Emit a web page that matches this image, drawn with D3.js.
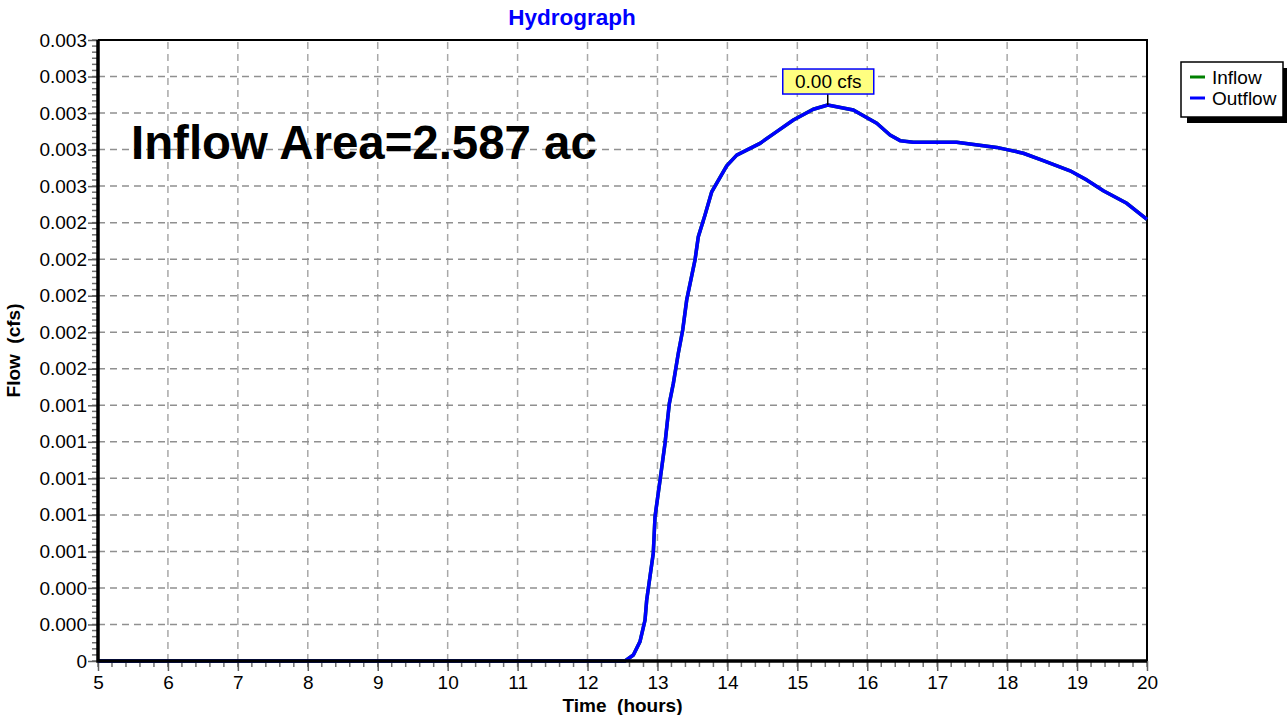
<!DOCTYPE html>
<html>
<head>
<meta charset="utf-8">
<script src="https://cdn.jsdelivr.net/npm/d3@7"></script>
<style>
    body { margin: 0; background: #ffffff; }
    text { font-family: Arial, "Liberation Sans", sans-serif; }
</style>
</head>
<body>
<div id="chart-container"></div>
<script>
// Time in hours
const times = [5, 12.536, 12.655, 12.75, 12.822, 12.846, 12.94, 12.965, 13.037, 13.108, 13.17,
    13.227, 13.298, 13.361, 13.418, 13.537, 13.584, 13.68, 13.776, 13.99, 14.133, 14.466,
    14.705, 14.943, 15.229, 15.435, 15.8, 16.135, 16.326, 16.469, 16.659, 17.278, 17.851,
    18.232, 18.517, 18.9, 19.138, 19.376, 19.71, 20];

// Outflow in cfs
const outflow = [0, 0, 0.000033, 0.000106, 0.000224, 0.000334, 0.00059, 0.00079, 0.000991, 0.001192, 0.001411,
    0.00152, 0.001685, 0.001812, 0.001977, 0.002196, 0.002323, 0.002442, 0.002569, 0.002711, 0.00277, 0.002834,
    0.002898, 0.002962, 0.003021, 0.003044, 0.003017, 0.002944, 0.00288, 0.002849, 0.00284, 0.00284, 0.002812,
    0.00278, 0.002739, 0.002684, 0.002634, 0.002575, 0.002506, 0.002418];

// Inflow equals outflow here (drawn underneath)
const inflow = outflow.slice();

const xTicks = d3.range(5, 21, 1);
const yTicks = d3.range(0, 0.00341, 0.0002);

const peakTime = 15.435;
const peakFlow = 0.003044;
const peakLabel = "0.00 cfs";
const areaLabel = "Inflow Area=2.587 ac";

const legendItems = [
    { name: "Inflow", color: "#008000" },
    { name: "Outflow", color: "#0000ff" }
];

const width = 1287, height = 715;
const margin = { left: 98, right: 140, top: 40, bottom: 54 };
const labelSize = "19px";

const svg = d3.select("#chart-container")
    .append("svg")
    .attr("width", width)
    .attr("height", height);

const xScale = d3.scaleLinear()
    .domain([5, 20])
    .range([margin.left, width - margin.right]);

const yScale = d3.scaleLinear()
    .domain([0, 0.0034])
    .range([height - margin.bottom, margin.top]);

// Grid lines
svg.append("g")
    .selectAll("line")
    .data(xTicks.slice(1, -1))
    .enter()
    .append("line")
    .attr("x1", d => xScale(d))
    .attr("x2", d => xScale(d))
    .attr("y1", yScale.range()[0])
    .attr("y2", yScale.range()[1])
    .attr("stroke", "#a8a8a8")
    .attr("stroke-width", 1.5)
    .attr("stroke-dasharray", "7,5");

svg.append("g")
    .selectAll("line")
    .data(yTicks.slice(1))
    .enter()
    .append("line")
    .attr("x1", xScale.range()[0])
    .attr("x2", xScale.range()[1])
    .attr("y1", d => yScale(d))
    .attr("y2", d => yScale(d))
    .attr("stroke", "#909090")
    .attr("stroke-width", 1.5)
    .attr("stroke-dasharray", "7,5");

// Frame (top, right thin)
svg.append("path")
    .attr("d", `M${xScale(5)},${yScale(0.0034)}H${xScale(20)}V${yScale(0)}`)
    .attr("fill", "none")
    .attr("stroke", "#000")
    .attr("stroke-width", 2);

// Axes
const fmtY = d => d === 0 ? "0" : d3.format(".3f")(d);

const yAxis = d3.axisLeft(yScale)
    .tickValues(yTicks)
    .tickFormat(fmtY)
    .tickSize(10)
    .tickPadding(1);

const xAxis = d3.axisBottom(xScale)
    .tickValues(xTicks)
    .tickFormat(d3.format("d"))
    .tickSize(10)
    .tickPadding(5);

// Minor ticks
const xMinor = d3.range(5, 20.001, 0.2);
const yMinor = d3.range(0, 0.00341, 0.0002 / 6);

svg.append("g")
    .selectAll("line")
    .data(yMinor)
    .enter()
    .append("line")
    .attr("x1", xScale(5) - 6)
    .attr("x2", xScale(5))
    .attr("y1", d => yScale(d))
    .attr("y2", d => yScale(d))
    .attr("stroke", "#707070")
    .attr("stroke-width", 1.5);

svg.append("g")
    .selectAll("line")
    .data(xMinor)
    .enter()
    .append("line")
    .attr("x1", d => xScale(d))
    .attr("x2", d => xScale(d))
    .attr("y1", yScale(0))
    .attr("y2", yScale(0) + 6)
    .attr("stroke", "#707070")
    .attr("stroke-width", 1.5);

const gy = svg.append("g")
    .attr("transform", `translate(${xScale(5)}, 0)`)
    .call(yAxis);

const gx = svg.append("g")
    .attr("transform", `translate(0, ${yScale(0)})`)
    .call(xAxis);

[gx, gy].forEach(g => {
    g.select(".domain").remove();
    g.selectAll(".tick line").attr("stroke", "#606060").attr("stroke-width", 1.5);
    g.selectAll(".tick text")
        .attr("fill", "#000")
        .style("font-size", labelSize)
        .style("font-family", "Arial, 'Liberation Sans', sans-serif");
});

// Series lines
const line = d3.line()
    .x((d, i) => xScale(times[i]))
    .y(d => yScale(d));

svg.append("path")
    .datum(inflow)
    .attr("fill", "none")
    .attr("stroke", "#008000")
    .attr("stroke-width", 3.5)
    .attr("d", line);

svg.append("path")
    .datum(outflow)
    .attr("fill", "none")
    .attr("stroke", "#0000ff")
    .attr("stroke-width", 3.5)
    .attr("stroke-linejoin", "round")
    .attr("d", line);

// Thick left and bottom axis lines
svg.append("path")
    .attr("d", `M${xScale(5)},${yScale(0.0034)}V${yScale(0)}H${xScale(20)}`)
    .attr("fill", "none")
    .attr("stroke", "#000")
    .attr("stroke-width", 3.5);

// Title and axis labels
svg.append("text")
    .attr("x", 572)
    .attr("y", 25)
    .attr("text-anchor", "middle")
    .attr("fill", "#0000ff")
    .style("font-size", "22.5px")
    .style("font-weight", "bold")
    .text("Hydrograph");

svg.append("text")
    .attr("x", (xScale(5) + xScale(20)) / 2)
    .attr("y", 712)
    .attr("text-anchor", "middle")
    .style("font-size", labelSize)
    .style("font-weight", "bold")
    .style("white-space", "pre")
    .text("Time  (hours)");

svg.append("text")
    .attr("transform", `translate(20, ${(yScale(0) + yScale(0.0034)) / 2}) rotate(-90)`)
    .attr("text-anchor", "middle")
    .style("font-size", labelSize)
    .style("font-weight", "bold")
    .style("white-space", "pre")
    .text("Flow  (cfs)");

// Area annotation
svg.append("text")
    .attr("x", 131)
    .attr("y", 159)
    .style("font-size", "47.4px")
    .style("font-weight", "bold")
    .text(areaLabel);

// Peak label with leader line
const px = xScale(peakTime), py = yScale(peakFlow);
svg.append("line")
    .attr("x1", px).attr("x2", px)
    .attr("y1", py).attr("y2", py - 11)
    .attr("stroke", "#000")
    .attr("stroke-width", 1.5);

svg.append("rect")
    .attr("x", px - 45)
    .attr("y", py - 36)
    .attr("width", 91)
    .attr("height", 25)
    .attr("fill", "#ffff80")
    .attr("stroke", "#0000ff")
    .attr("stroke-width", 1.5);

svg.append("text")
    .attr("x", px + 0.5)
    .attr("y", py - 17)
    .attr("text-anchor", "middle")
    .style("font-size", labelSize)
    .text(peakLabel);

// Legend with drop shadow
const legend = svg.append("g").attr("transform", "translate(1181, 62)");

legend.append("rect")
    .attr("x", 6).attr("y", 6)
    .attr("width", 102).attr("height", 55)
    .attr("fill", "#000");

legend.append("rect")
    .attr("width", 102).attr("height", 55)
    .attr("fill", "#fff")
    .attr("stroke", "#000")
    .attr("stroke-width", 1.5);

const rows = legend.selectAll(".row")
    .data(legendItems)
    .enter()
    .append("g")
    .attr("transform", (d, i) => `translate(0, ${15 + i * 21})`);

rows.append("line")
    .attr("x1", 9).attr("x2", 24)
    .attr("stroke", d => d.color)
    .attr("stroke-width", 3);

rows.append("text")
    .attr("x", 31)
    .attr("dy", "0.35em")
    .style("font-size", labelSize)
    .text(d => d.name);
</script>
</body>
</html>
